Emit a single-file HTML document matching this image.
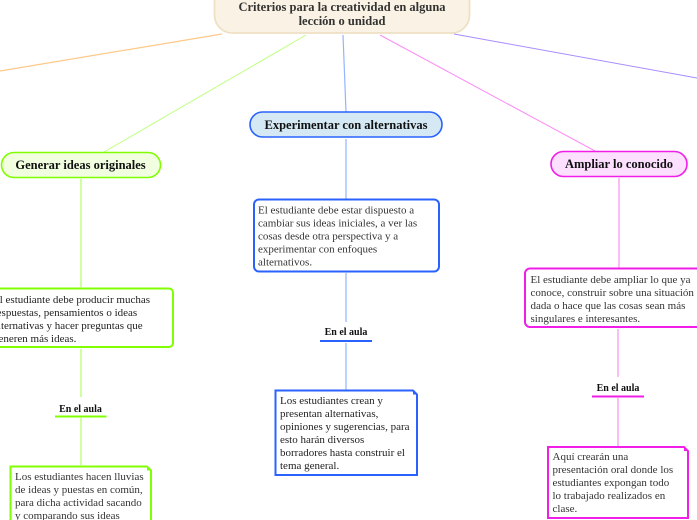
<!DOCTYPE html>
<html><head><meta charset="utf-8"><style>
html,body{margin:0;padding:0;background:#fff;width:697px;height:520px;overflow:hidden}
svg{display:block;filter:blur(0.35px)}
text{font-family:"Liberation Serif",serif}
.b{font-size:11px;fill:#333}
.k{font-size:11px;fill:#222}
.h{font-size:12.5px;font-weight:bold;fill:#111;text-anchor:middle}
.a{font-size:10px;font-weight:bold;fill:#111;text-anchor:middle}
</style></head><body>
<svg width="697" height="520" viewBox="0 0 697 520" xmlns="http://www.w3.org/2000/svg">
<g fill="none">
<path d="M222 34L0 71" stroke="#fdc98a" stroke-width="1.200"/>
<path d="M306 35L104 152" stroke="#bfff80"/>
<path d="M343 35L346 112" stroke="#94b4ff" stroke-width="1.200"/>
<path d="M380 35L595 151" stroke="#fb8cf6"/>
<path d="M454 34L697 78" stroke="#a98cff"/>
<path d="M346 139V199M346 273V322M346 343V390" stroke="#a9c3ff" stroke-width="1.500"/>
<path d="M81 179V287M81 349V397M81 418V465" stroke="#b5ff6a" stroke-width="1.300"/>
<path d="M619 178V268M618 329V377M618 398V446" stroke="#f7a8f4" stroke-width="1.500"/>
</g>
<rect x="214.500" y="-20" width="255" height="53" rx="18" fill="#faf3e5" stroke="#efe0c4" stroke-width="1.800"/>
<text class="h" x="342" y="11" style="font-size:12.5px;fill:#333">Criterios para la creatividad en alguna</text>
<text class="h" x="342" y="25" style="font-size:12.5px;fill:#333">lección o unidad</text>

<rect x="250" y="112" width="192" height="25" rx="12.500" fill="#d5e9f5" stroke="#2962ff" stroke-width="1.600"/>
<text class="h" x="346" y="129">Experimentar con alternativas</text>
<rect x="1.500" y="152.500" width="159" height="25" rx="12.500" fill="#f1ffe0" stroke="#80ff00" stroke-width="1.600"/>
<text class="h" x="80.500" y="169">Generar ideas originales</text>
<rect x="551" y="151.500" width="136" height="25" rx="12.500" fill="#fde0ff" stroke="#f01ee8" stroke-width="1.600"/>
<text class="h" x="619" y="168">Ampliar lo conocido</text>

<rect x="254" y="199.500" width="185" height="72" rx="5" fill="#fff" stroke="#2962ff" stroke-width="2"/>
<text class="b" x="258" y="213.500">El estudiante debe estar dispuesto a</text>
<text class="b" x="258" y="226.500">cambiar sus ideas iniciales, a ver las</text>
<text class="b" x="258" y="239.500">cosas desde otra perspectiva y a</text>
<text class="b" x="258" y="252.500">experimentar con enfoques</text>
<text class="b" x="258" y="265.500">alternativos.</text>

<rect x="-10" y="288.500" width="183" height="58.500" rx="4" fill="#fff" stroke="#80ff00" stroke-width="2"/>
<text class="k" x="-7" y="303">El estudiante debe producir muchas</text>
<text class="k" x="-7" y="316">respuestas, pensamientos o ideas</text>
<text class="k" x="-7" y="329">alternativas y hacer preguntas que</text>
<text class="k" x="-7" y="342">generen más ideas.</text>

<rect x="525" y="268.500" width="185" height="58.500" rx="5" fill="#fff" stroke="#f01ee8" stroke-width="2"/>
<text class="b" x="530.500" y="283">El estudiante debe ampliar lo que ya</text>
<text class="b" x="530.500" y="296">conoce, construir sobre una situación</text>
<text class="b" x="530.500" y="309">dada o hace que las cosas sean más</text>
<text class="b" x="530.500" y="322">singulares e interesantes.</text>

<text class="a" x="346" y="335">En el aula</text>
<path d="M320 341H372" stroke="#2962ff" stroke-width="2"/>
<text class="a" x="80.500" y="412">En el aula</text>
<path d="M55 416.500H106.500" stroke="#80ff00" stroke-width="2"/>
<text class="a" x="618" y="391">En el aula</text>
<path d="M592 396.500H644" stroke="#f01ee8" stroke-width="2"/>

<path d="M275.500 390.500H413L417 394.500V475H275.500Z" fill="#fff" stroke="#2962ff" stroke-width="2"/>
<path d="M413 390.500V394.500H417Z" fill="#2962ff"/>
<text class="k" x="280" y="404">Los estudiantes crean y</text>
<text class="k" x="280" y="417">presentan alternativas,</text>
<text class="k" x="280" y="430">opiniones y sugerencias, para</text>
<text class="k" x="280" y="443">esto harán diversos</text>
<text class="k" x="280" y="456">borradores hasta construir el</text>
<text class="k" x="280" y="469">tema general.</text>

<path d="M10.500 466.500H147L151 470.500V530H10.500Z" fill="#fff" stroke="#80ff00" stroke-width="2"/>
<path d="M147 466.500V470.500H151Z" fill="#80ff00"/>
<text class="b" x="15" y="480">Los estudiantes hacen lluvias</text>
<text class="b" x="15" y="493">de ideas y puestas en común,</text>
<text class="b" x="15" y="506">para dicha actividad sacando</text>
<text class="b" x="15" y="519">y comparando sus ideas</text>

<path d="M548 447H684L688 451V518H548Z" fill="#fff" stroke="#f01ee8" stroke-width="2"/>
<path d="M684 447V451H688Z" fill="#f01ee8"/>
<text class="b" x="552.500" y="460">Aquí crearán una</text>
<text class="b" x="552.500" y="473">presentación oral donde los</text>
<text class="b" x="552.500" y="486">estudiantes expongan todo</text>
<text class="b" x="552.500" y="499">lo trabajado realizados en</text>
<text class="b" x="552.500" y="512">clase.</text>
</svg>
</body></html>
